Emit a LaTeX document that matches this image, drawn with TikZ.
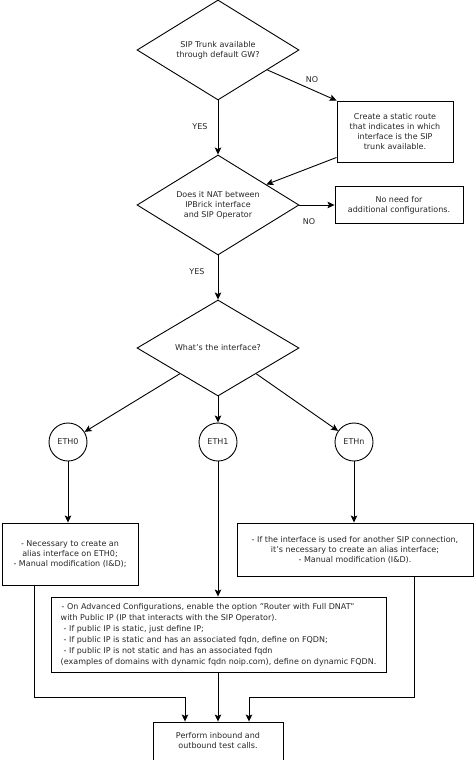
\documentclass[tikz,border=0pt]{standalone}
\usepackage{fontspec}
\setmainfont{DejaVu Sans}
\usetikzlibrary{shapes.geometric,arrows.meta}

\begin{document}
\begin{tikzpicture}[x=1pt,y=-1pt,line width=0.9pt,
                    every node/.style={font=\fontsize{8}{10}\selectfont,text=black!85},
                    decision/.style={draw,diamond,aspect=1.6,inner sep=0pt,minimum width=162pt,minimum height=100pt,align=center},
                    process/.style={draw,rectangle,inner sep=2pt,align=center},
                    iface/.style={draw,circle,minimum size=38pt,inner sep=0pt},
                    lbl/.style={inner sep=0pt},
                    flow/.style={-{Stealth[length=7pt,width=6.5pt,inset=1.5pt]}}]
                    \useasboundingbox (0,0) rectangle (474,760);

                    \node[decision] (d1) at (218,50) {SIP Trunk available\\through default GW?};
                    \node[process,minimum width=116pt,minimum height=61pt] (b1) at (395,131.5)
                        {Create a static route\\that indicates in which\\interface is the SIP\\trunk available.};
                    \node[decision] (d2) at (218,205) {Does it NAT between\\IPBrick interface\\and SIP Operator};
                    \node[process,minimum width=128pt,minimum height=37pt] (b2) at (399,205)
                        {No need for\\additional configurations.};
                    \node[decision,minimum height=96pt] (d3) at (218,348) {What's the interface?};

                    \node[lbl] (no1) at (312,80) {NO};
                    \node[lbl] (yes1) at (200,127) {YES};
                    \node[lbl] (no2) at (309,222) {NO};
                    \node[lbl] (yes2) at (197,272) {YES};

                    \node[iface] (eth0) at (68,442) {ETH0};
                    \node[iface] (eth1) at (218,442) {ETH1};
                    \node[iface] (ethn) at (354,442) {ETHn};

                    \node[process,minimum width=136pt,minimum height=62pt] (e0box) at (70,554)
                        {- Necessary to create an\\alias interface on ETH0;\\- Manual modification (I\&D);};
                    \node[process,minimum width=236pt,minimum height=53pt] (enbox) at (355,549.5)
                        {- If the interface is used for another SIP connection,\\it's necessary to create an alias interface;\\- Manual modification (I\&D).};
                    \node[process,minimum width=335pt,minimum height=75pt,align=left,font=\fontsize{8}{11}\selectfont] (dnat) at (218.5,634.5)
                        {\hspace*{1pt}- On Advanced Configurations, enable the option "Router with Full DNAT"\\
                         with Public IP (IP that interacts with the SIP Operator).\\
                         \hspace*{3pt}- If public IP is static, just define IP;\\
                         \hspace*{3pt}- If public IP is static and has an associated fqdn, define on FQDN;\\
                         \hspace*{3pt}- If public IP is not static and has an associated fqdn\\
                         (examples of domains with dynamic fqdn noip.com), define on dynamic FQDN.};
                    \node[process,minimum width=130pt,minimum height=38pt] (tests) at (218,741)
                        {Perform inbound and\\outbound test calls.};

                    \draw[flow] (d1) -- (d2);
                    \draw[flow] (d1.-22) -- (b1.north west);
                    \draw[flow] ([yshift=5pt]b1.south west) -- (d2.23);
                    \draw[flow] (d2) -- (b2);
                    \draw[flow] (d2) -- (d3);
                    \draw[flow] (d3.-146) -- (eth0);
                    \draw[flow] (d3) -- (eth1);
                    \draw[flow] (d3.-34) -- (ethn);
                    \draw[flow] (eth0) -- (eth0 |- e0box.north);
                    \draw[flow] (eth1) -- (eth1 |- dnat.north);
                    \draw[flow] (ethn) -- (ethn |- enbox.north);
                    \draw[flow] ([xshift=33pt]e0box.south west) -- ++(0,112) -| ([xshift=-33pt]tests.north);
                    \draw[flow] (tests |- dnat.south) -- (tests);
                    \draw[flow] ([xshift=-59pt]enbox.south east) -- ++(0,121) -| ([xshift=31pt]tests.north);

                \end{tikzpicture}
\end{document}
